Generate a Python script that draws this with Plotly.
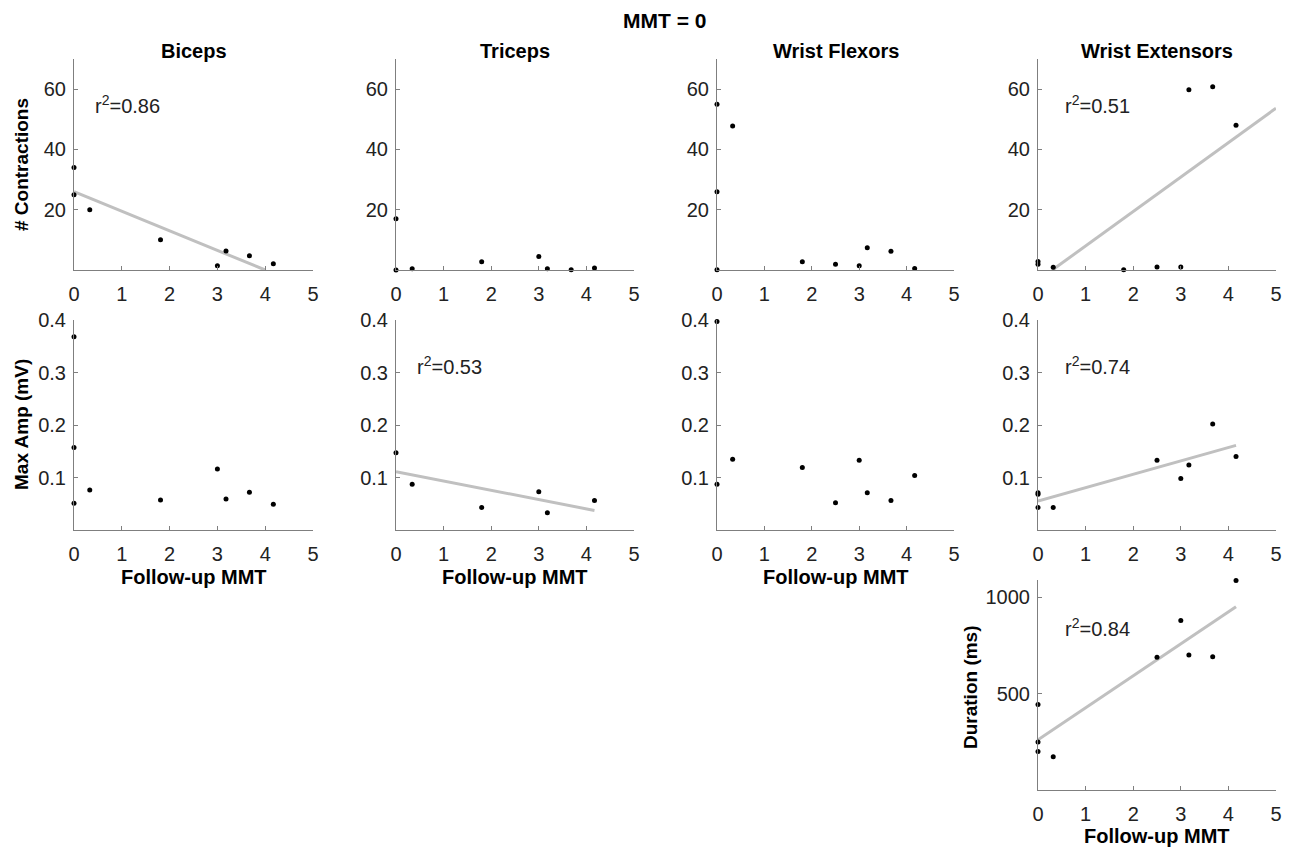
import numpy as np
import plotly.graph_objects as go

W, H = 1293, 855

# ---------------- data ----------------
muscles = ["Biceps", "Triceps", "Wrist Flexors", "Wrist Extensors"]
xticks = [0, 1, 2, 3, 4, 5]

# Row 1: number of contractions
bic_n_x = [0, 0, 0.33, 1.81, 3.0, 3.18, 3.67, 4.17]
bic_n_y = [34, 25, 20, 10, 1.4, 6.3, 4.7, 2.1]
tri_n_x = [0, 0, 0.34, 1.8, 3.0, 3.18, 3.68, 4.17]
tri_n_y = [17, 0, 0.4, 2.7, 4.5, 0.4, 0.1, 0.7]
flx_n_x = [0, 0, 0, 0.33, 1.8, 2.5, 3.0, 3.17, 3.67, 4.17]
flx_n_y = [55, 26, 0.1, 47.8, 2.7, 1.9, 1.4, 7.4, 6.2, 0.5]
ext_n_x = [0, 0, 0.32, 1.8, 2.5, 3.0, 3.17, 3.67, 4.16]
ext_n_y = [2.8, 1.9, 0.9, 0.1, 1.0, 1.0, 59.8, 60.8, 48]

# Row 2: max amplitude (mV)
bic_a_x = [0, 0, 0, 0.33, 1.81, 3.0, 3.18, 3.67, 4.17]
bic_a_y = [0.368, 0.157, 0.051, 0.076, 0.057, 0.116, 0.059, 0.072, 0.049]
tri_a_x = [0, 0.34, 1.8, 3.0, 3.18, 4.17]
tri_a_y = [0.147, 0.087, 0.043, 0.073, 0.033, 0.056]
flx_a_x = [0, 0, 0.33, 1.8, 2.5, 3.0, 3.17, 3.67, 4.17]
flx_a_y = [0.397, 0.087, 0.135, 0.119, 0.052, 0.133, 0.071, 0.056, 0.104]
ext_a_x = [0, 0, 0, 0.32, 2.5, 3.0, 3.17, 3.67, 4.16]
ext_a_y = [0.071, 0.068, 0.043, 0.043, 0.133, 0.098, 0.124, 0.202, 0.140]

# Row 3: duration (ms)
ext_d_x = [0, 0, 0, 0.32, 2.5, 3.0, 3.17, 3.67, 4.16]
ext_d_y = [444, 249, 200, 172, 689, 880, 701, 691, 1087]

# Regression lines: (intercept, slope, x start, x end)
fit_bic_n = (26.0, -6.5, 0.0, 4.0)
fit_ext_n = (-3.45, 11.43, 0.3, 5.0)
fit_tri_a = (0.111, -0.0177, 0.0, 4.17)
fit_ext_a = (0.055, 0.0255, 0.0, 4.16)
fit_ext_d = (261.0, 166.0, 0.0, 4.16)

# r^2 labels: text, x, y (data coords)
r2_bic_n = ("r<sup>2</sup>=0.86", 0.4, 55)
r2_ext_n = ("r<sup>2</sup>=0.51", 0.52, 55)
r2_tri_a = ("r<sup>2</sup>=0.53", 0.4, 0.314)
r2_ext_a = ("r<sup>2</sup>=0.74", 0.52, 0.314)
r2_ext_d = ("r<sup>2</sup>=0.84", 0.52, 845)

# ---------------- layout geometry (pixels) ----------------
col_px = [(74, 313), (396, 634), (717, 954), (1038, 1276)]
row_px = [(59, 270), (320, 530), (580, 790)]
FONT = "Liberation Sans, Arial, Helvetica, sans-serif"
AX = "#7f7f7f"
TXT = "#222222"

def xd(a, b):
    return [a / W, b / W]

def yd(top, bot):
    return [1 - bot / H, 1 - top / H]

panels = [
    # (row, col, xs, ys, fit, r2, yrange, ytickvals, ytext)
    (0, 0, bic_n_x, bic_n_y, fit_bic_n, r2_bic_n, [0, 70], [20, 40, 60], ["20", "40", "60"]),
    (0, 1, tri_n_x, tri_n_y, None, None, [0, 70], [20, 40, 60], ["20", "40", "60"]),
    (0, 2, flx_n_x, flx_n_y, None, None, [0, 70], [20, 40, 60], ["20", "40", "60"]),
    (0, 3, ext_n_x, ext_n_y, fit_ext_n, r2_ext_n, [0, 70], [20, 40, 60], ["20", "40", "60"]),
    (1, 0, bic_a_x, bic_a_y, None, None, [0, 0.4], [0.1, 0.2, 0.3, 0.4], ["0.1", "0.2", "0.3", "0.4"]),
    (1, 1, tri_a_x, tri_a_y, fit_tri_a, r2_tri_a, [0, 0.4], [0.1, 0.2, 0.3, 0.4], ["0.1", "0.2", "0.3", "0.4"]),
    (1, 2, flx_a_x, flx_a_y, None, None, [0, 0.4], [0.1, 0.2, 0.3, 0.4], ["0.1", "0.2", "0.3", "0.4"]),
    (1, 3, ext_a_x, ext_a_y, fit_ext_a, r2_ext_a, [0, 0.4], [0.1, 0.2, 0.3, 0.4], ["0.1", "0.2", "0.3", "0.4"]),
    (2, 3, ext_d_x, ext_d_y, fit_ext_d, r2_ext_d, [0, 1090], [500, 1000], ["500", "1000"]),
]

fig = go.Figure()
layout = dict(
    width=W, height=H, margin=dict(l=0, r=0, t=0, b=0, autoexpand=False),
    paper_bgcolor="white", plot_bgcolor="white", showlegend=False,
    font=dict(family=FONT, color=TXT),
)
annotations = []

for i, (r, c, xs, ys, fit, r2, yr, ytv, ytt) in enumerate(panels):
    n = i + 1
    xa = "x" if n == 1 else f"x{n}"
    ya = "y" if n == 1 else f"y{n}"
    xkey = "xaxis" if n == 1 else f"xaxis{n}"
    ykey = "yaxis" if n == 1 else f"yaxis{n}"
    common = dict(showline=True, linecolor=AX, linewidth=1, mirror=False,
                  ticks="inside", ticklen=4, tickcolor=AX, tickwidth=1,
                  showgrid=False, zeroline=False, fixedrange=True, automargin=False,
                  tickfont=dict(family=FONT, size=20, color=TXT))
    layout[xkey] = dict(common, domain=xd(*col_px[c]), range=[0, 5], anchor=ya,
                        tickvals=xticks, ticktext=[str(t) for t in xticks],
                        ticklabelstandoff=6)
    layout[ykey] = dict(common, domain=yd(*row_px[r]), range=yr, anchor=xa,
                        tickvals=ytv, ticktext=ytt, ticklabelstandoff=3)
    if fit is not None:
        b0, b1, x0, x1 = fit
        fx = np.array([x0, x1])
        fig.add_trace(go.Scatter(x=fx, y=b0 + b1 * fx, mode="lines", xaxis=xa, yaxis=ya,
                                 line=dict(color="#c0c0c0", width=3), hoverinfo="skip",
                                 cliponaxis=False))
    fig.add_trace(go.Scatter(x=xs, y=ys, mode="markers", xaxis=xa, yaxis=ya,
                             marker=dict(color="black", size=5), cliponaxis=False))
    if r2 is not None:
        annotations.append(dict(text=r2[0], x=r2[1], y=r2[2], xref=xa, yref=ya,
                                xanchor="left", yanchor="middle", showarrow=False,
                                font=dict(family=FONT, size=20, color=TXT)))

# Panel titles
for c, name in enumerate(muscles):
    a, b = col_px[c]
    annotations.append(dict(text=f"<b>{name}</b>", x=(a + b) / 2 / W, y=1 - 51 / H,
                            xref="paper", yref="paper", showarrow=False,
                            xanchor="center", yanchor="middle",
                            font=dict(family=FONT, size=20, color="black")))

# Figure title
annotations.append(dict(text="<b>MMT = 0</b>", x=664 / W, y=1 - 20 / H, xref="paper", yref="paper",
                        showarrow=False, xanchor="center", yanchor="middle",
                        font=dict(family=FONT, size=21, color="black")))

# Y axis titles
ylabels = [("# Contractions", 22, 165), ("Max Amp (mV)", 22, 425), ("Duration (ms)", 970, 687)]
for t, px, py in ylabels:
    annotations.append(dict(text=f"<b>{t}</b>", x=px / W, y=1 - py / H, xref="paper", yref="paper",
                            showarrow=False, textangle=-90, xanchor="center", yanchor="middle",
                            font=dict(family=FONT, size=19, color="black")))

# X axis titles
xlabels = [(0, 577), (1, 577), (2, 577), (3, 836)]
for c, py in xlabels:
    a, b = col_px[c]
    annotations.append(dict(text="<b>Follow-up MMT</b>", x=(a + b) / 2 / W, y=1 - py / H,
                            xref="paper", yref="paper", showarrow=False,
                            xanchor="center", yanchor="middle",
                            font=dict(family=FONT, size=20, color="black")))

layout["annotations"] = annotations
fig.update_layout(**layout)
fig.write_html("out.html")
